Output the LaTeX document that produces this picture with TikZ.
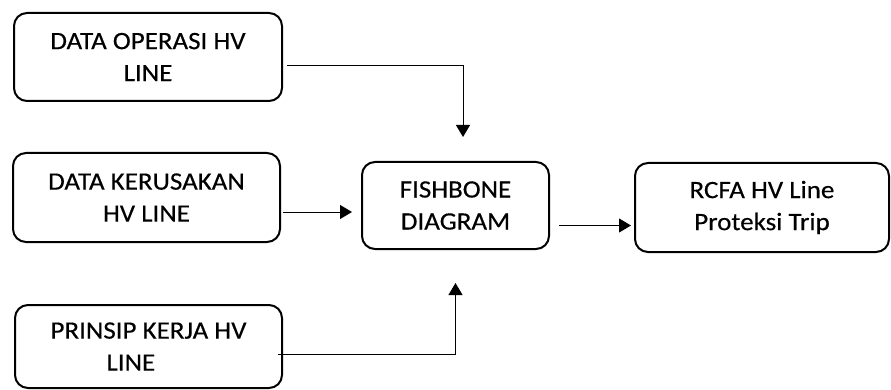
\documentclass[tikz,border=0pt]{standalone}
\usepackage{fontspec}
\setmainfont{Carlito}[FakeStretch=1.08,FakeBold=0.4]
\usetikzlibrary{arrows.meta}

\tikzset{
  blok/.style={draw, line width=2pt, rounded corners=13pt, align=center,
    inner sep=0pt, font=\fontsize{25pt}{32pt}\selectfont},
  panah/.style={line width=1pt, -{Triangle[length=12pt,width=14pt]}}
}

\begin{document}
\begin{tikzpicture}[x=1pt,y=-1pt]
  \useasboundingbox (0,0) rectangle (891,390);
  \node[blok, minimum width=268, minimum height=88] (operasi) at (148,57) {DATA OPERASI HV\\LINE};
  \node[blok, minimum width=267, minimum height=89] (kerusakan) at (146.5,197.5) {DATA KERUSAKAN\\HV LINE};
  \node[blok, minimum width=267, minimum height=83, align=left] (prinsip) at (148.5,346.5) {PRINSIP KERJA HV\\\hspace*{56pt}LINE};
  \node[blok, minimum width=187, minimum height=87] (fishbone) at (455.5,205.5) {FISHBONE\\DIAGRAM};
  \node[blok, minimum width=254, minimum height=89] (rcfa) at (762,207.5) {RCFA HV Line\\Proteksi Trip};

  % ujung-ujung panah
  \coordinate (operasiOut) at ([xshift=4pt,yshift=-9pt]operasi.east);
  \coordinate (fishAtas) at ([xshift=7.5pt,yshift=24pt]fishbone.north);
  \coordinate (kerusakanOut) at ([xshift=2pt,yshift=-14.5pt]kerusakan.east);
  \coordinate (fishKiri) at ([xshift=-9pt,yshift=-6.5pt]fishbone.west);
  \coordinate (prinsipOut) at ([xshift=-5pt,yshift=-7.5pt]prinsip.east);
  \coordinate (fishBawah) at ([yshift=-33pt]fishbone.south);
  \coordinate (fishOut) at ([xshift=9pt,yshift=-20pt]fishbone.east);
  \coordinate (rcfaKiri) at ([xshift=-3pt,yshift=-18pt]rcfa.west);

  \draw[panah] (operasiOut) -| (fishAtas);
  \draw[panah] (kerusakanOut) -- (fishKiri);
  \draw[panah] (prinsipOut) -| (fishBawah);
  \draw[panah] (fishOut) -- (rcfaKiri);
\end{tikzpicture}
\end{document}
